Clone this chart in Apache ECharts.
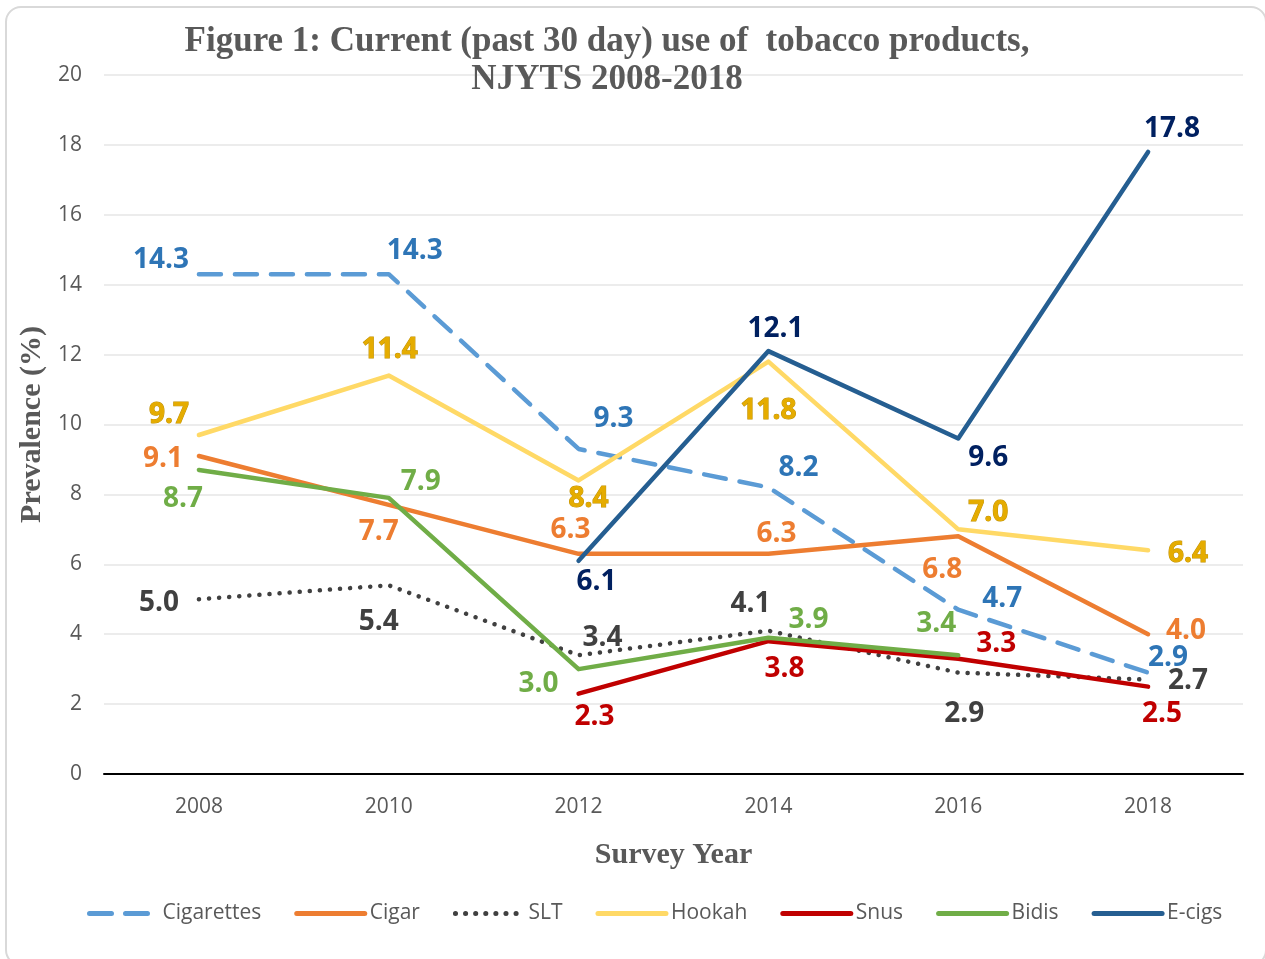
<!DOCTYPE html>
<html>
<head>
<meta charset="utf-8">
<script src="https://cdn.jsdelivr.net/npm/echarts@6/dist/echarts.min.js"></script>
<style>
  html, body { margin: 0; padding: 0; background: #fff; }
  #frame { position: absolute; left: 5px; top: 6px; width: 1262px; height: 960px; border: 2px solid #d9d9d9; border-radius: 16px; box-sizing: border-box; }
  #chart { position: absolute; left: 0; top: 0; width: 1265px; height: 959px; }
</style>
</head>
<body>
<div id="frame"></div>
<div id="chart"></div>
<script>
const categories = ['2008', '2010', '2012', '2014', '2016', '2018'];
const cigarettes = [14.3, 14.3, 9.3, 8.2, 4.7, 2.9];
const cigar      = [9.1, 7.7, 6.3, 6.3, 6.8, 4.0];
const slt        = [5.0, 5.4, 3.4, 4.1, 2.9, 2.7];
const hookah     = [9.7, 11.4, 8.4, 11.8, 7.0, 6.4];
const snus       = [null, null, 2.3, 3.8, 3.3, 2.5];
const bidis      = [8.7, 7.9, 3.0, 3.9, 3.4, null];
const ecigs      = [null, null, 6.1, 12.1, 9.6, 17.8];
const yMin = 0, yMax = 20, yStep = 2;

// label offsets (style only) relative to each point, in pixels
const offsets = {
  Cigarettes: [[-38,-16],[26,-25],[35,-32],[30,-21],[44,-13],[20,-17]],
  Cigar:      [[-36,1],[-10,25],[-8,-26],[8,-22],[-16,32],[38,-5]],
  SLT:        [[-40,2],[-10,35],[24,-19],[-18,-29],[6,39],[40,-1]],
  Hookah:     [[-30,-22],[1,-28],[10,17],[0,47],[30,-18],[40,2]],
  Snus:       [null,null,[16,21],[16,26],[38,-17],[14,25]],
  Bidis:      [[-16,27],[32,-18],[-40,13],[40,-20],[-22,-33],null],
  'E-cigs':   [null,null,[18,19],[7,-24],[30,18],[24,-25]]
};
const LABEL_DY = 2;

const defs = [
  {name: 'Cigarettes', data: cigarettes, color: '#5B9BD5', label: '#2E75B6', type: [22, 14]},
  {name: 'Cigar',      data: cigar,      color: '#ED7D31', label: '#ED7D31', type: 'solid'},
  {name: 'SLT',        data: slt,        color: '#404040', label: '#404040', type: [0.1, 10]},
  {name: 'Hookah',     data: hookah,     color: '#FFD966', label: '#E5AC00', type: 'solid', border: '#BF8F00'},
  {name: 'Snus',       data: snus,       color: '#C00000', label: '#C00000', type: 'solid'},
  {name: 'Bidis',      data: bidis,      color: '#70AD47', label: '#70AD47', type: 'solid'},
  {name: 'E-cigs',     data: ecigs,      color: '#255E91', label: '#002060', type: 'solid'}
];

const SYM = 2;
const series = defs.map(d => ({
  name: d.name,
  type: 'line',
  symbol: 'circle',
  symbolSize: SYM,
  showSymbol: true,
  connectNulls: false,
  itemStyle: { color: 'rgba(0,0,0,0)', borderWidth: 0 },
  lineStyle: { color: d.color, width: 4.5, type: d.type, cap: 'round', join: 'round' },
  emphasis: { disabled: true },
  labelLayout: { hideOverlap: false },
  data: d.data.map((v, i) => v == null ? null : {
    value: v,
    label: {
      show: true,
      position: [offsets[d.name][i][0] + SYM / 2, offsets[d.name][i][1] + SYM / 2 + LABEL_DY],
      align: 'center',
      verticalAlign: 'middle',
      formatter: () => v.toFixed(1),
      color: d.label,
      fontFamily: 'Open Sans',
      fontWeight: 'bold',
      fontSize: 28,
      textBorderColor: d.border || 'transparent',
      textBorderWidth: d.border ? 1 : 0
    }
  })
}));

const chart = echarts.init(document.getElementById('chart'), null, {renderer: 'canvas'});
chart.setOption({
  animation: false,
  backgroundColor: 'transparent',
  graphic: [{
    type: 'text', x: 607, y: 23, z: 100,
    style: {
      text: 'Figure 1: Current (past 30 day) use of  tobacco products,\nNJYTS 2008-2018',
      align: 'center', verticalAlign: 'top',
      font: 'bold 35px "Liberation Serif"', fill: '#595959', lineHeight: 38
    }
  }],
  grid: { left: 104, right: 22, top: 75, bottom: 185 },
  xAxis: {
    type: 'category', data: categories, boundaryGap: true,
    name: 'Survey Year', nameLocation: 'middle', nameGap: 66,
    nameTextStyle: { fontFamily: 'Liberation Serif', fontWeight: 'bold', fontSize: 30, color: '#595959' },
    axisLine: { lineStyle: { color: '#000', width: 2 } },
    axisTick: { show: false },
    axisLabel: { color: '#595959', fontFamily: 'Open Sans', fontSize: 21, margin: 23 }
  },
  yAxis: {
    type: 'value', min: yMin, max: yMax, interval: yStep,
    name: 'Prevalence (%)', nameLocation: 'middle', nameGap: 57, nameRotate: 90,
    nameTextStyle: { fontFamily: 'Liberation Serif', fontWeight: 'bold', fontSize: 30, color: '#595959' },
    axisLine: { show: false }, axisTick: { show: false },
    axisLabel: { color: '#595959', fontFamily: 'Open Sans', fontSize: 21, margin: 22 },
    splitLine: { lineStyle: { color: '#E6E6E6', width: 1.5 } }
  },
  legend: {
    bottom: 30, left: 82, itemGap: 33, itemWidth: 68, itemHeight: 6,
    lineStyle: { width: 5 },
    textStyle: { color: '#595959', fontFamily: 'Open Sans', fontSize: 21 },
    data: defs.map(d => d.name)
  },
  series: series
});
</script>
</body>
</html>
